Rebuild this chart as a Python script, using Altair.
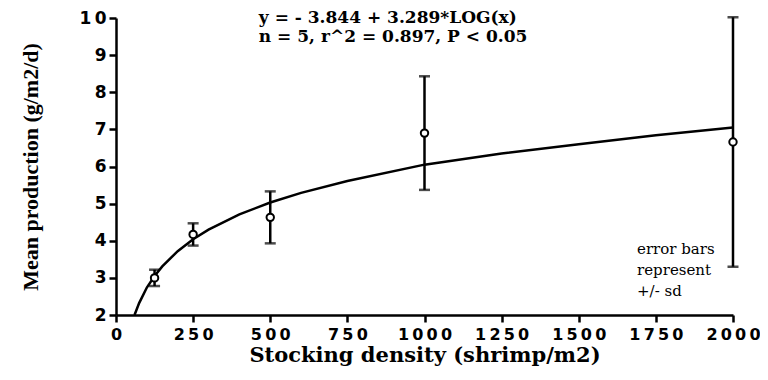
import altair as alt
import pandas as pd

# Observed means and standard deviations
density = [125, 250, 500, 1000, 2000]
mean_prod = [3.0, 4.17, 4.63, 6.9, 6.66]
sd_prod = [0.22, 0.30, 0.70, 1.53, 3.36]

# Fitted curve
curve_x = [60, 75, 100, 125, 150, 200, 250, 300, 400, 500, 600, 750, 1000, 1250, 1500, 1750, 2000]
curve_y = [2.0, 2.32, 2.74, 3.05, 3.31, 3.72, 4.04, 4.30, 4.71, 5.03, 5.29, 5.61, 6.05, 6.35, 6.60, 6.84, 7.05]

x_ticks = [0, 250, 500, 750, 1000, 1250, 1500, 1750, 2000]
y_ticks = [2, 3, 4, 5, 6, 7, 8, 9, 10]

eq_lines = ["y =  - 3.844 + 3.289*LOG(x)", "n = 5, r^2 = 0.897, P < 0.05"]
eq_x = [463, 463]
eq_y = [9.99, 9.48]

note_lines = ["error bars", "represent", "+/- sd"]
note_x = [1689, 1689, 1689]
note_y = [3.78, 3.21, 2.65]

pts = pd.DataFrame({"x": density, "m": mean_prod, "sd": sd_prod})
pts["lo"] = pts["m"] - pts["sd"]
pts["hi"] = pts["m"] + pts["sd"]
curve = pd.DataFrame({"x": curve_x, "y": curve_y})
eq = pd.DataFrame({"x": eq_x, "y": eq_y, "t": eq_lines})
note = pd.DataFrame({"x": note_x, "y": note_y, "t": note_lines})

spaced = "replace(datum.label, regexp('(\\\\d)(?=\\\\d)', 'g'), '$1\u2009')"

xs = alt.Scale(domain=[0, 2000], nice=False)
ys = alt.Scale(domain=[2, 10], nice=False)

xax = alt.Axis(values=x_ticks, format="d", title="Stocking density (shrimp/m2)", labelExpr=spaced,
               labelOverlap=False, labelFlush=False, labelBound=False, labelFontSize=16,
               titleFont="DejaVu Serif", titleFontSize=21, titleFontWeight="bold", titlePadding=2)
yax = alt.Axis(values=y_ticks, format="d", title="Mean production (g/m2/d)", labelExpr=spaced,
               labelOverlap=False, labelFlush=False, labelBound=False, tickCount=9,
               titleFont="Liberation Serif", titleFontSize=22, titleFontWeight="bold", titlePadding=36)


def X(f):
    return alt.X(f, scale=xs, axis=xax)


def Y(f):
    return alt.Y(f, scale=ys, axis=yax)


bars = alt.Chart(pts).mark_rule(color="black", strokeWidth=2.5).encode(
    x=X("x:Q"), y=Y("lo:Q"), y2="hi:Q")
cap_lo = alt.Chart(pts).mark_tick(color="black", orient="horizontal", size=11, thickness=2.5).encode(
    x=X("x:Q"), y=Y("lo:Q"))
cap_hi = alt.Chart(pts).mark_tick(color="black", orient="horizontal", size=11, thickness=2.5).encode(
    x=X("x:Q"), y=Y("hi:Q"))
line = alt.Chart(curve).mark_line(color="black", strokeWidth=2.5).encode(
    x=X("x:Q"), y=Y("y:Q"))
dots = alt.Chart(pts).mark_point(shape="circle", filled=False, fill="white", fillOpacity=1,
                                 stroke="black", strokeWidth=2, size=55, opacity=1).encode(
    x=X("x:Q"), y=Y("m:Q"))
eq_text = alt.Chart(eq).mark_text(align="left", baseline="middle", font="DejaVu Serif",
                                  fontSize=17, fontWeight="bold", color="black").encode(
    x=X("x:Q"), y=Y("y:Q"), text="t:N")
note_text = alt.Chart(note).mark_text(align="left", baseline="middle", font="DejaVu Serif",
                                      fontSize=15, color="black").encode(
    x=X("x:Q"), y=Y("y:Q"), text="t:N")

chart = alt.layer(bars, cap_lo, cap_hi, line, dots, eq_text, note_text).properties(
    width=617, height=297,
    autosize=alt.AutoSizeParams(type="none"),
    padding={"left": 108, "top": 10, "right": 27, "bottom": 57},
).configure_view(stroke=None).configure_axis(
    grid=False, domainColor="black", domainWidth=2.5, tickColor="black", tickWidth=2.5,
    tickSize=7, labelFont="DejaVu Sans", labelFontWeight="bold", labelFontSize=17,
    labelColor="black", titleColor="black", labelPadding=3
).configure_axisX(labelPadding=4).configure_axisY(labelPadding=3)

chart.save("out.html", embed_options={"renderer": "svg", "actions": False})
